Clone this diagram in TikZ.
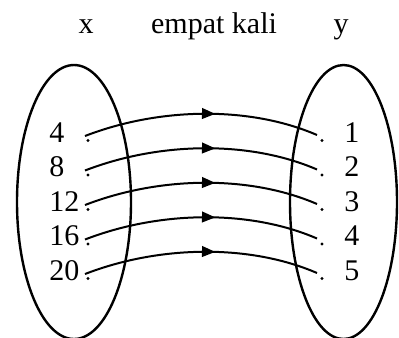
\documentclass[tikz,border=0pt]{standalone}
\usepackage{fontspec}
\setmainfont{Liberation Serif}
\usetikzlibrary{arrows.meta,decorations.markings}
\tikzset{
  lbl/.style={inner sep=0pt,anchor=base west,font=\fontsize{22.5}{24}\selectfont},
  ttl/.style={inner sep=0pt,anchor=base,font=\fontsize{22.5}{24}\selectfont},
  setell/.style={draw,line width=1.8pt},
  pdot/.style={circle,fill,inner sep=0pt,minimum size=2.4pt},
  maplink/.style={line width=1.5pt,postaction={decorate},
    decoration={markings,mark=at position 0.56 with {\arrow{Triangle[length=10pt,width=8pt]}}}}
}
\begin{document}
\begin{tikzpicture}[x=0.75pt,y=-0.75pt]
\useasboundingbox (0,0) rectangle (399,337);
% titles
\node[ttl] (tx) at (86,33) {x};
\node[ttl] (tf) at (214,33) {empat kali};
\node[ttl] (ty) at (341,33) {y};
% sets
\draw[setell] (74,202) ellipse [x radius=57, y radius=137];
\draw[setell] (343.5,202) ellipse [x radius=53.5, y radius=137];
% elements
\foreach \i/\a/\b/\yb in {1/4/1/142, 2/8/2/176.5, 3/12/3/211, 4/16/4/245.5, 5/20/5/280}{
  \node[lbl] (l\i) at (49,\yb) {\a};
  \node[lbl] (r\i) at (344,\yb) {\b};
  \node[pdot] (dl\i) at (88,\yb-1.5) {};
  \node[pdot] (dr\i) at (322,\yb-1.5) {};
  \coordinate (s\i) at (85,\yb-6);
  \coordinate (e\i) at (317,\yb-7);
  \draw[maplink] (s\i) .. controls +(75,-29) and +(-67,-29) .. (e\i);
}
\end{tikzpicture}
\end{document}
